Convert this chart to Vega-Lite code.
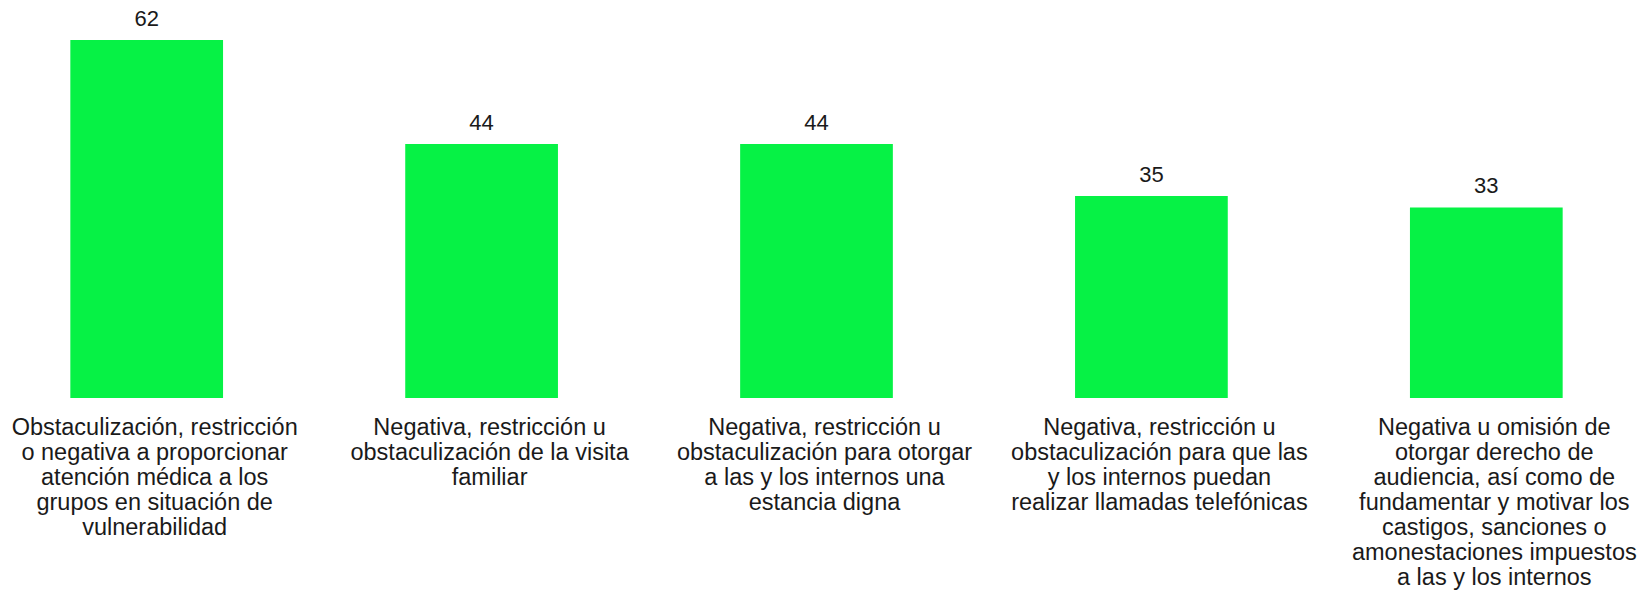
{
  "$schema": "https://vega.github.io/schema/vega-lite/v6.json",
  "width": 1633,
  "height": 358,
  "autosize": "none",
  "padding": {"left": 0, "top": 40, "right": 6, "bottom": 194},
  "background": "white",
  "config": {"view": {"stroke": null}, "font": "Liberation Sans"},
  "data": {
    "values": [
      {"categoria": "Obstaculización, restricción|o negativa a proporcionar|atención médica a los|grupos en situación de|vulnerabilidad", "valor": 62},
      {"categoria": "Negativa, restricción u|obstaculización de la visita|familiar", "valor": 44},
      {"categoria": "Negativa, restricción u|obstaculización para otorgar|a las y los internos una|estancia digna", "valor": 44},
      {"categoria": "Negativa, restricción u|obstaculización para que las|y los internos puedan|realizar llamadas telefónicas", "valor": 35},
      {"categoria": "Negativa u omisión de|otorgar derecho de|audiencia, así como de|fundamentar y motivar los|castigos, sanciones o|amonestaciones impuestos|a las y los internos", "valor": 33}
    ]
  },
  "encoding": {
    "x": {
      "field": "categoria",
      "type": "nominal",
      "sort": null,
      "scale": {"paddingInner": 0.544, "paddingOuter": 0.21},
      "axis": {
        "title": null,
        "labelAngle": 0,
        "labelExpr": "split(datum.label, '|')",
        "labelFontSize": 23.5,
        "labelLineHeight": 25,
        "labelColor": "#1a1a1a",
        "labelPadding": 17,
        "labelOffset": 8,
        "labelLimit": 400,
        "labelBaseline": "top",
        "domain": false,
        "ticks": false,
        "grid": false
      }
    },
    "y": {
      "field": "valor",
      "type": "quantitative",
      "scale": {"domain": [0, 62], "nice": false},
      "axis": null
    }
  },
  "layer": [
    {"mark": {"type": "bar", "color": "#06f245"}},
    {
      "mark": {"type": "text", "baseline": "bottom", "dy": -9, "fontSize": 22, "color": "#1a1a1a"},
      "encoding": {"text": {"field": "valor", "type": "quantitative"}}
    }
  ]
}
